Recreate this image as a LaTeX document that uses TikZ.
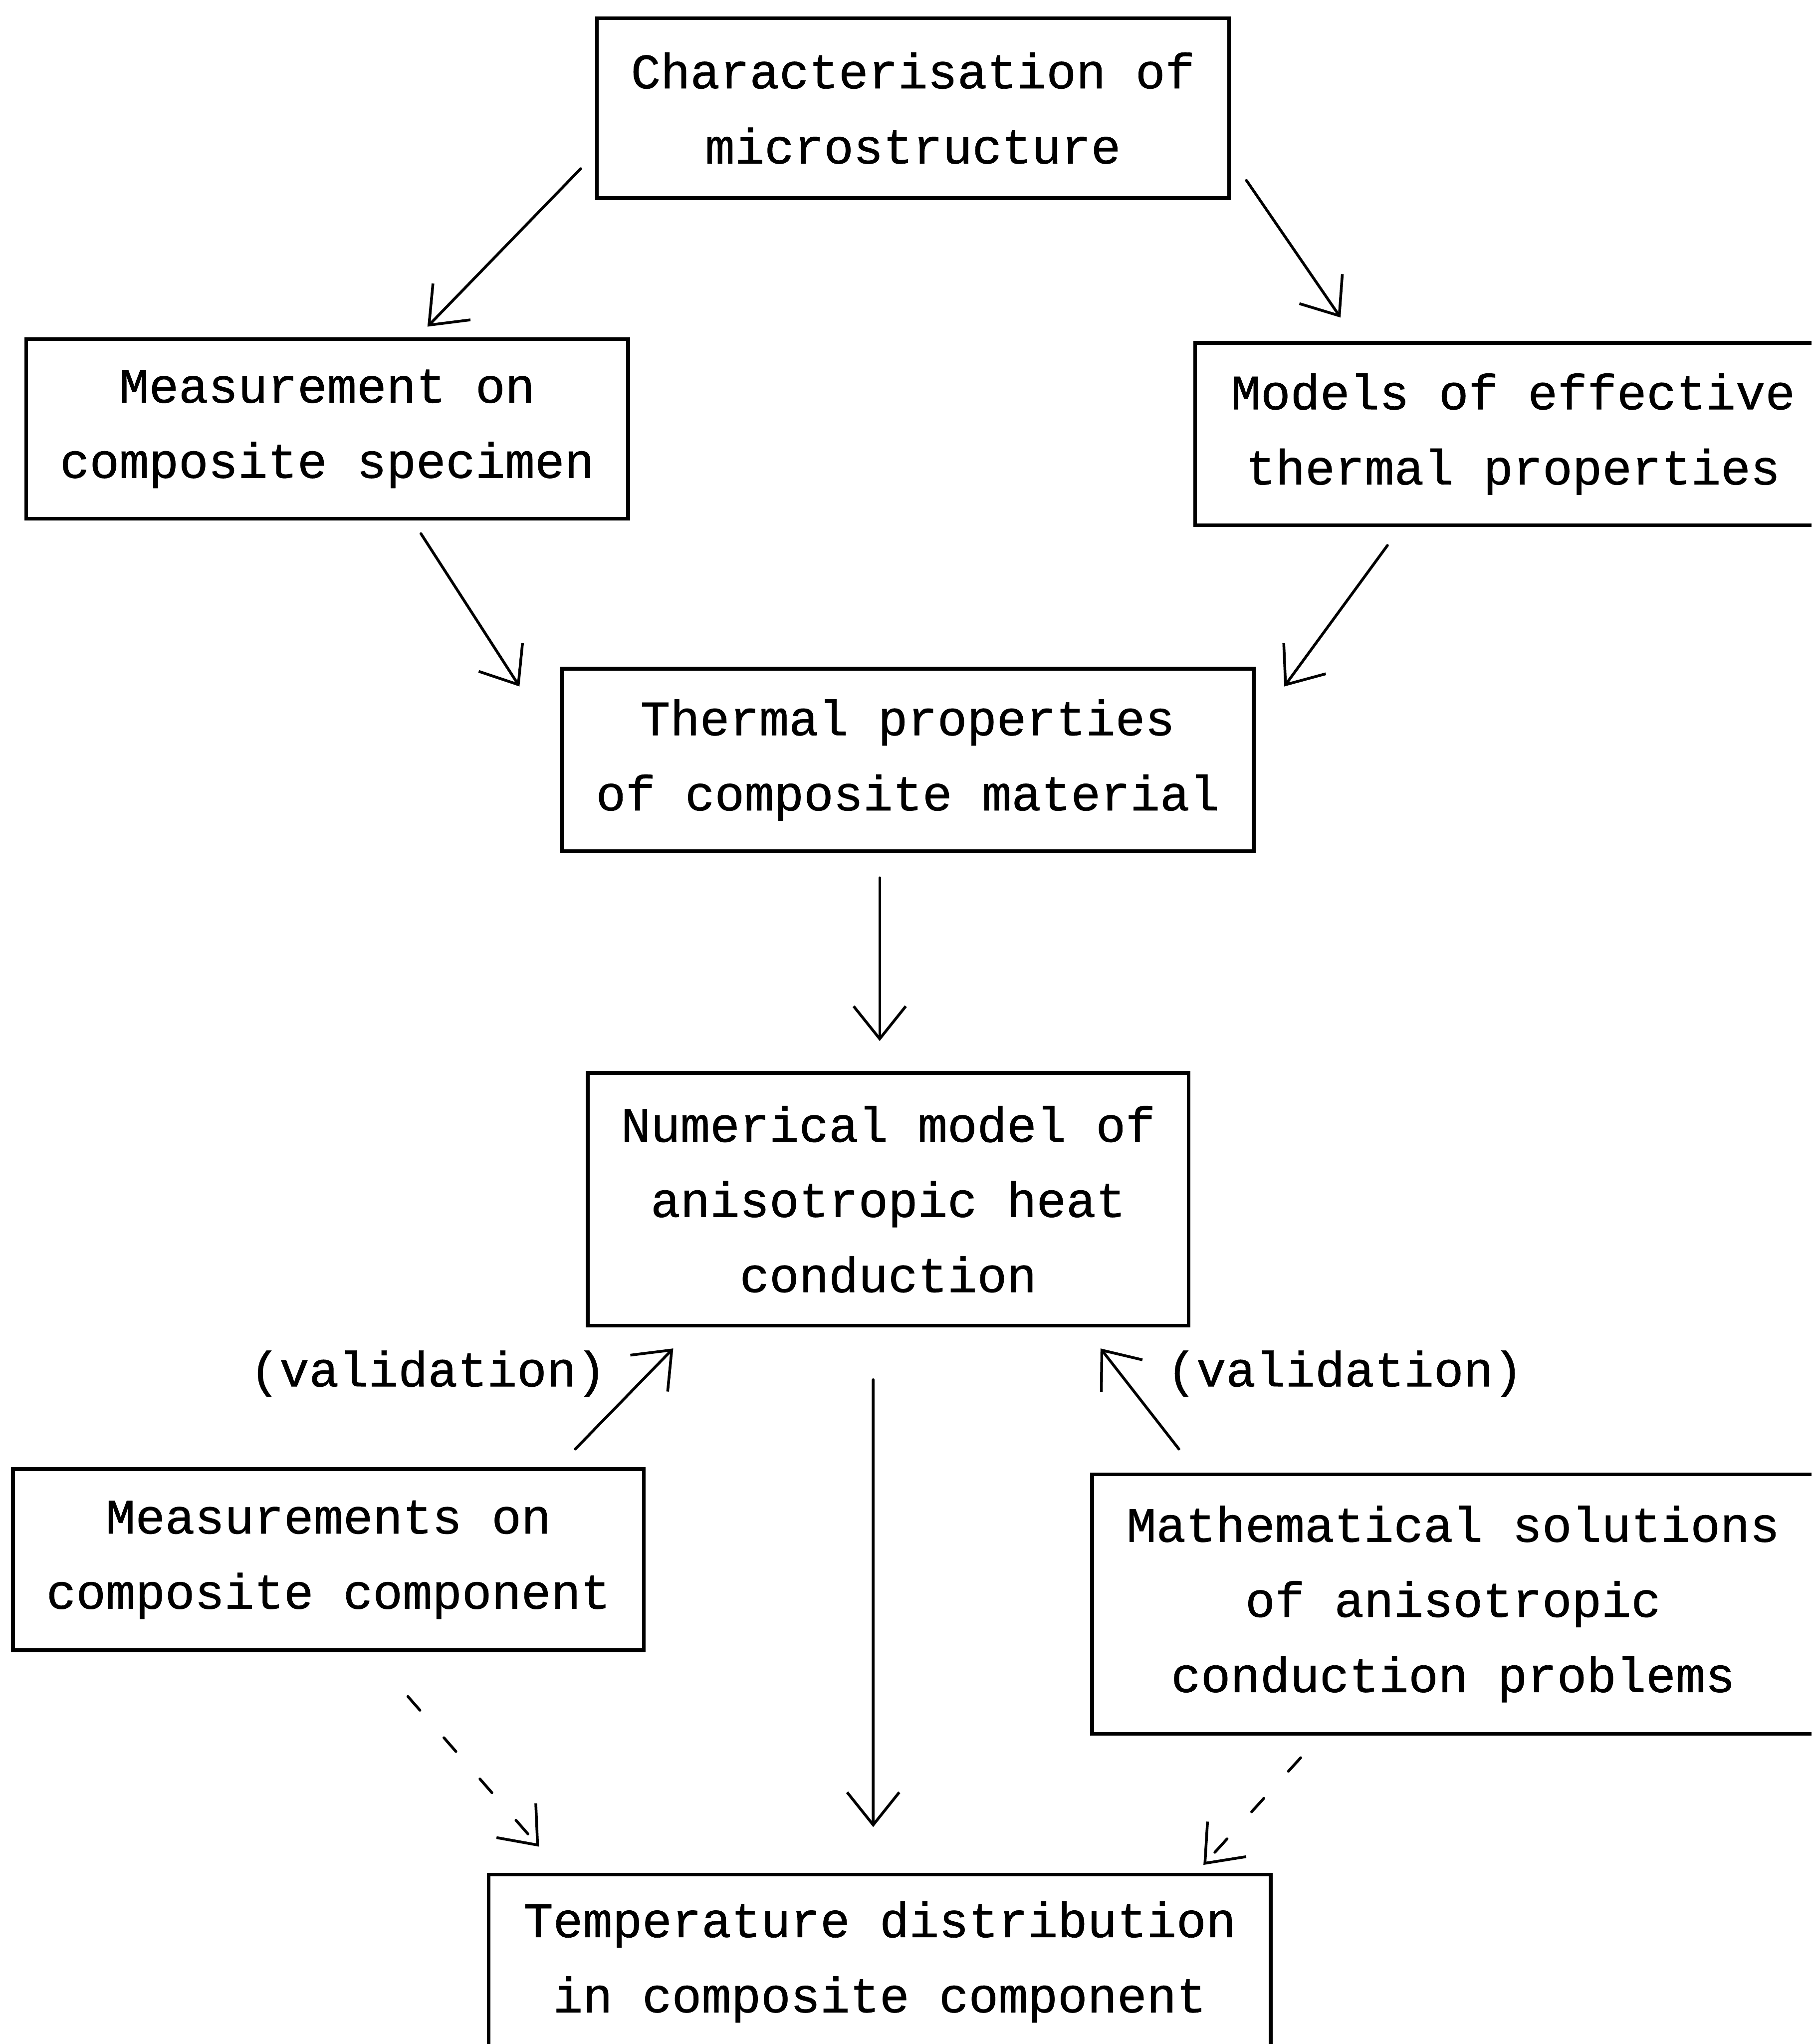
\documentclass[tikz,border=0pt]{standalone}
\usepackage{fontspec}
\usetikzlibrary{arrows.meta}
\newfontfamily\typew[FakeBold=0.8]{Liberation Mono}
\begin{document}
\begin{tikzpicture}
    \tikzset{box/.style = {draw, line width=0.8pt, align=center, inner sep=0pt,
        font=\typew\fontsize{10.8}{16.4}\selectfont}}
    \tikzset{lbl/.style = {font=\typew\fontsize{10.8}{16.4}\selectfont}}
    \tikzset{arr/.style = {->, >={Straight Barb[length=0.25cm,width=0.4cm]}, line width=0.6pt, line cap=round}}
    \tikzset{darr/.style = {arr, dash pattern=on 0.14cm off 0.28cm}}
    \clip (0,0) rectangle (13.9,-15.68);
    % boxes on top
    \node[box, minimum width=4.85cm, minimum height=1.38cm] (micro) at (7.005,-0.83) {Characterisation of\\microstructure};
    \node[box, minimum width=4.62cm, minimum height=1.38cm] (spec) at (2.51,-3.29) {Measurement on\\composite specimen};
    \node[box, minimum width=4.88cm, minimum height=1.40cm] (models) at (11.61,-3.33) {Models of effective\\thermal properties};
    \node[box, minimum width=5.31cm, minimum height=1.40cm] (thermal) at (6.965,-5.83) {Thermal properties\\of composite material};
    % boxes below
    \node[box, minimum width=4.61cm, minimum height=1.94cm] (numer) at (6.815,-9.20) {Numerical model of\\anisotropic heat\\conduction};
    \node[box, minimum width=4.84cm, minimum height=1.39cm] (meascomp) at (2.52,-11.965) {Measurements on\\composite component};
    \node[box, minimum width=5.54cm, minimum height=1.99cm] (maths) at (11.15,-12.305) {Mathematical solutions\\of anisotropic\\conduction problems};
    \node[box, minimum width=6.00cm, minimum height=1.34cm] (temp) at (6.75,-15.05) {Temperature distribution\\in composite component};
    % solid arrows
    \draw[arr] ([shift={(-0.11,0.24)}]micro.south west) -- ([shift={(0.77,0.08)}]spec.north);
    \draw[arr] ([shift={(0.12,0.15)}]micro.south east) -- ([shift={(1.13,0.18)}]models.north west);
    \draw[arr] ([shift={(0.72,-0.10)}]spec.south) -- ([shift={(-0.31,-0.15)}]thermal.north west);
    \draw[arr] ([shift={(1.49,-0.14)}]models.south west) -- ([shift={(0.22,-0.15)}]thermal.north east);
    \draw[arr] ([shift={(-0.215,-0.19)}]thermal.south) -- ([shift={(-0.065,0.23)}]numer.north);
    \draw[arr] ([shift={(-0.115,-0.40)}]numer.south) -- ([shift={(-0.05,0.35)}]temp.north);
    % validation arrows
    \draw[arr] ([shift={(-0.54,0.14)}]meascomp.north east) -- node[lbl, pos=0.75, left=0.2cm] {(validation)} ([shift={(0.67,-0.16)}]numer.south west);
    \draw[arr] ([shift={(0.68,0.18)}]maths.north west) -- node[lbl, pos=0.75, right=0.23cm] {(validation)} ([shift={(-0.69,-0.16)}]numer.south east);
    % dashed arrows
    \draw[darr] ([shift={(0.61,-0.34)}]meascomp.south) -- ([shift={(0.40,0.20)}]temp.north west);
    \draw[darr] ([shift={(-1.17,-0.17)}]maths.south) -- ([shift={(-0.53,0.06)}]temp.north east);
\end{tikzpicture}
\end{document}
